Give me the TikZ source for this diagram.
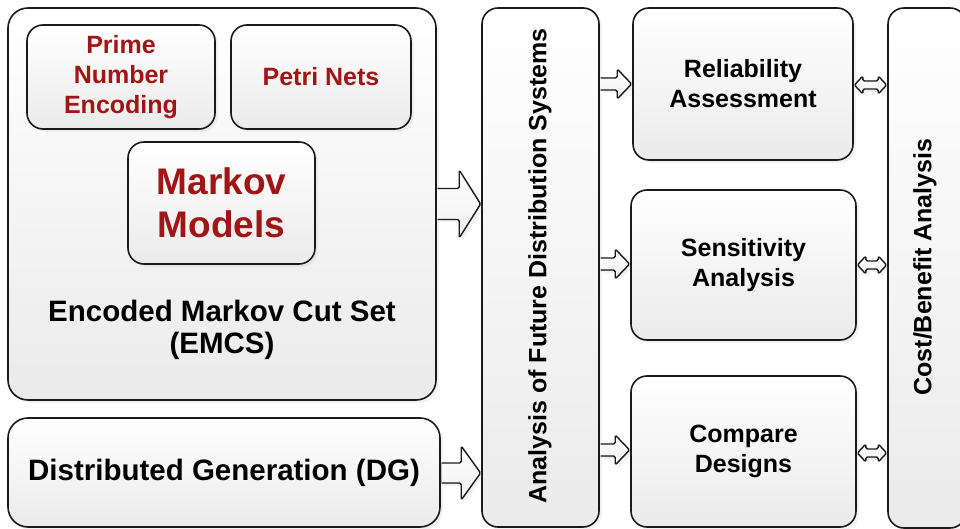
\documentclass[tikz,border=0pt]{standalone}
\usepackage{fontspec}
\setmainfont{Liberation Sans}
\usetikzlibrary{shadows,calc}
\definecolor{boxred}{HTML}{A01515}
\definecolor{edge}{HTML}{1A1A1A}
\newcommand\setfs[2]{\fontsize{#1}{#2}\selectfont\bfseries}
% one-headed block arrow: tail point, tip point, shaft half-height, head half-height, head length
\newcommand\onearrow[5]{%
  \filldraw[blockarrow] let \p1=(#1), \p2=(#2) in
    (\x1+0.8,\y1+#3) -- (\x2-#5,\y1+#3) -- (\x2-#5,\y1+#4) -- (\x2-0.6,\y1)
    -- (\x2-#5,\y1-#4) -- (\x2-#5,\y1-#3) -- (\x1+0.8,\y1-#3);}
% two-headed block arrow
\newcommand\twoarrow[5]{%
  \filldraw[blockarrow] let \p1=(#1), \p2=(#2) in
    (\x1+0.6,\y1) -- (\x1+#5,\y1+#4) -- (\x1+#5,\y1+#3) -- (\x2-#5,\y1+#3)
    -- (\x2-#5,\y1+#4) -- (\x2-0.6,\y1) -- (\x2-#5,\y1-#4) -- (\x2-#5,\y1-#3)
    -- (\x1+#5,\y1-#3) -- (\x1+#5,\y1-#4) -- cycle;}
\tikzset{
  box/.style={draw=edge, line width=1.6pt, rounded corners=16pt,
    top color=white, bottom color=black!8, inner sep=0pt, align=center,
    drop shadow={opacity=0.10, shadow xshift=3pt, shadow yshift=-3pt}},
  bigbox/.style={box, rounded corners=20pt},
  redtext/.style={text=boxred},
  small/.style={font=\setfs{25}{30}},
  large/.style={font=\setfs{29.5}{32}},
  huge/.style={font=\setfs{37}{43}},
  label/.style={inner sep=0pt, align=center, text=black},
  blockarrow/.style={draw=edge, line width=1.4pt, line join=round,
    rounded corners=1.5pt, top color=white, bottom color=black!6,
    drop shadow={opacity=0.10, shadow xshift=3pt, shadow yshift=-3pt}},
}
\begin{document}
\begin{tikzpicture}[x=1pt, y=-1pt]
\useasboundingbox (0,0) rectangle (960,529);
\clip (0,0) rectangle (960,529);

% left column
\node[bigbox, minimum width=428, minimum height=392] (emcs) at (222,204) {};
\node[box, redtext, small, minimum width=188, minimum height=104] (prime) at (121,77)
  {Prime\\Number\\Encoding};
\node[box, redtext, small, minimum width=180, minimum height=104] (petri) at (321,77)
  {Petri Nets};
\node[box, redtext, huge, minimum width=187, minimum height=122] (markov) at (221.5,203)
  {Markov\\Models};
\node[label, large] (emcstext) at (222,330)
  {Encoded Markov Cut Set\\(EMCS)};
\node[bigbox, large, minimum width=432, minimum height=109] (dg) at (224,472.5)
  {Distributed Generation (DG)};

% analysis column
\node[box, minimum width=117, minimum height=519] (ana) at (540.5,267.5) {};
\node[label, small, rotate=90] (anatext) at (540,266)
  {Analysis of Future Distribution Systems};

% result boxes
\node[box, small, minimum width=220, minimum height=152] (rel) at (743,84)
  {Reliability\\Assessment};
\node[box, small, minimum width=225, minimum height=150] (sens) at (743.5,265)
  {Sensitivity\\Analysis};
\node[box, small, minimum width=225, minimum height=151] (comp) at (743.5,451.5)
  {Compare\\Designs};

% cost/benefit column
\node[box, minimum width=78, minimum height=520] (cost) at (927,268) {};
\node[label, small, rotate=90] (costtext) at (925,267)
  {Cost/Benefit Analysis};

% arrow rows
\coordinate (rowA) at (0,204);
\coordinate (rowB) at (0,473);
\coordinate (row1) at (0,84);
\coordinate (row2) at (0,264);
\coordinate (row3) at (0,450);
\coordinate (dbl1) at (0,85);
\coordinate (dbl2) at (0,265);
\coordinate (dbl3) at (0,453);

\onearrow{emcs.east |- rowA}{ana.west |- rowA}{15.5}{34}{22}
\onearrow{dg.east |- rowB}{ana.west |- rowB}{10}{27}{20}
\onearrow{ana.east |- row1}{rel.west |- row1}{6}{15}{15}
\onearrow{ana.east |- row2}{sens.west |- row2}{6}{15}{15}
\onearrow{ana.east |- row3}{comp.west |- row3}{6}{15}{15}
\twoarrow{rel.east |- dbl1}{cost.west |- dbl1}{4}{9}{9}
\twoarrow{sens.east |- dbl2}{cost.west |- dbl2}{4}{9}{9}
\twoarrow{comp.east |- dbl3}{cost.west |- dbl3}{4}{9}{9}
\end{tikzpicture}
\end{document}
